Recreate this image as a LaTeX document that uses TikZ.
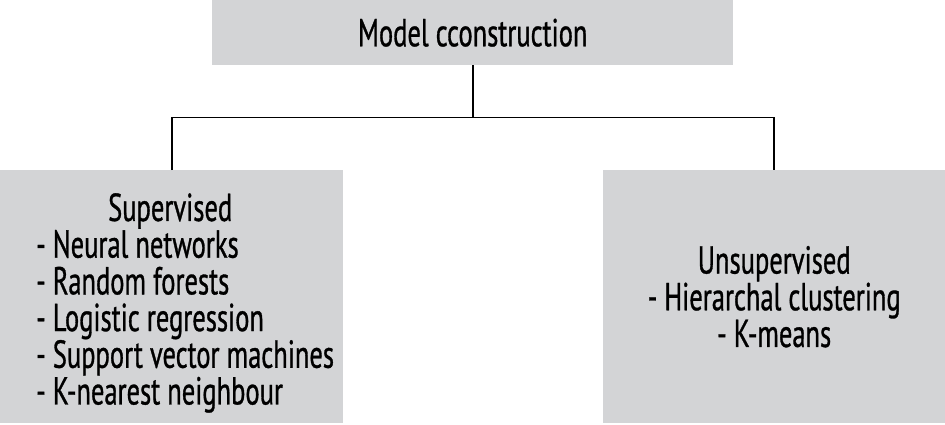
\documentclass[tikz,border=0pt]{standalone}
\usepackage{fontspec}
\setmainfont[FakeStretch=0.68, FakeBold=0.8]{PT Sans}
\definecolor{boxgray}{RGB}{211,212,214}
\tikzset{
	box/.style={fill=boxgray, inner sep=0pt},
	conn/.style={line width=1.6pt, black}
}
\begin{document}
\begin{tikzpicture}[x=1pt, y=-1pt, font=\fontsize{39}{36.7}\selectfont]
		\useasboundingbox (0,0) rectangle (945,425);
		\node[box, minimum width=521pt, minimum height=65pt, anchor=north west] (model) at (212,0) {Model cconstruction};
		\node[box, minimum width=343pt, minimum height=253pt, anchor=north west] (sup) at (0,170) {};
		\node[anchor=north west, inner sep=0pt, align=left] (suptext) at (36,193) {
				\hspace*{72pt}Supervised\\
				- Neural networks\\
				- Random forests\\
				- Logistic regression\\
				- Support vector machines\\
				- K-nearest neighbour};
		\node[box, minimum width=342pt, minimum height=253pt, anchor=north west, align=center] (unsup) at (603,170) {
				Unsupervised\\
				- Hierarchal clustering\\
				- K-means};
		\path (model.south) ++(0,52) coordinate (fork);
		\draw[conn] (model.south) -- (fork);
		\draw[conn] (sup.north) |- (fork) -| (unsup.north);
	\end{tikzpicture}
\end{document}
